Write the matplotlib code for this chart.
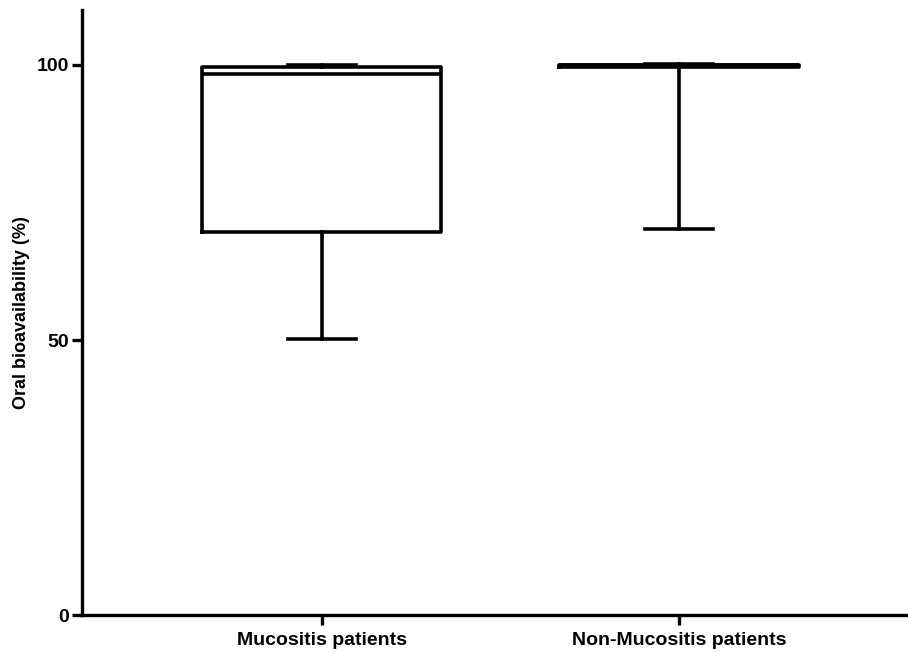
import matplotlib
matplotlib.use('Agg')
import matplotlib.pyplot as plt

groups = ['Mucositis patients', 'Non-Mucositis patients']
whisker_low = [50.2, 70.2]
q1 = [69.7, 99.6]
median = [98.4, 100.0]
q3 = [99.7, 100.0]
whisker_high = [100.0, 100.1]

plt.rcParams['font.family'] = ['Liberation Sans', 'DejaVu Sans']
plt.rcParams['font.weight'] = 'bold'

fig = plt.figure(figsize=(9.08, 6.52), dpi=100)
ax = fig.add_axes([0.0903, 0.0567, 0.9097, 0.928])

stats = []
for i in range(len(groups)):
    stats.append({'label': groups[i], 'whislo': whisker_low[i], 'q1': q1[i],
                  'med': median[i], 'q3': q3[i], 'whishi': whisker_high[i]})

lw = 2.6
ax.bxp(stats, positions=[1, 2], widths=0.67, showfliers=False,
       boxprops=dict(color='black', linewidth=lw),
       medianprops=dict(color='black', linewidth=lw),
       whiskerprops=dict(color='black', linewidth=lw),
       capprops=dict(color='black', linewidth=lw),
       capwidths=0.19)

ax.set_xlim(0.33, 2.64)
ax.set_ylim(0, 110)
ax.set_yticks([0, 50, 100])
ax.set_xticks([1, 2])
ax.set_xticklabels(groups)
ax.set_ylabel('Oral bioavailability (%)', fontsize=13, fontweight='bold', labelpad=5)

for s in ['top', 'right']:
    ax.spines[s].set_visible(False)
for s in ['left', 'bottom']:
    ax.spines[s].set_linewidth(2.4)
ax.tick_params(axis='both', width=2.4, length=7, labelsize=14, pad=2)
ax.tick_params(axis='x', pad=5)
for lab in ax.get_xticklabels() + ax.get_yticklabels():
    lab.set_fontweight('bold')

fig.savefig('out.png', dpi=100)
